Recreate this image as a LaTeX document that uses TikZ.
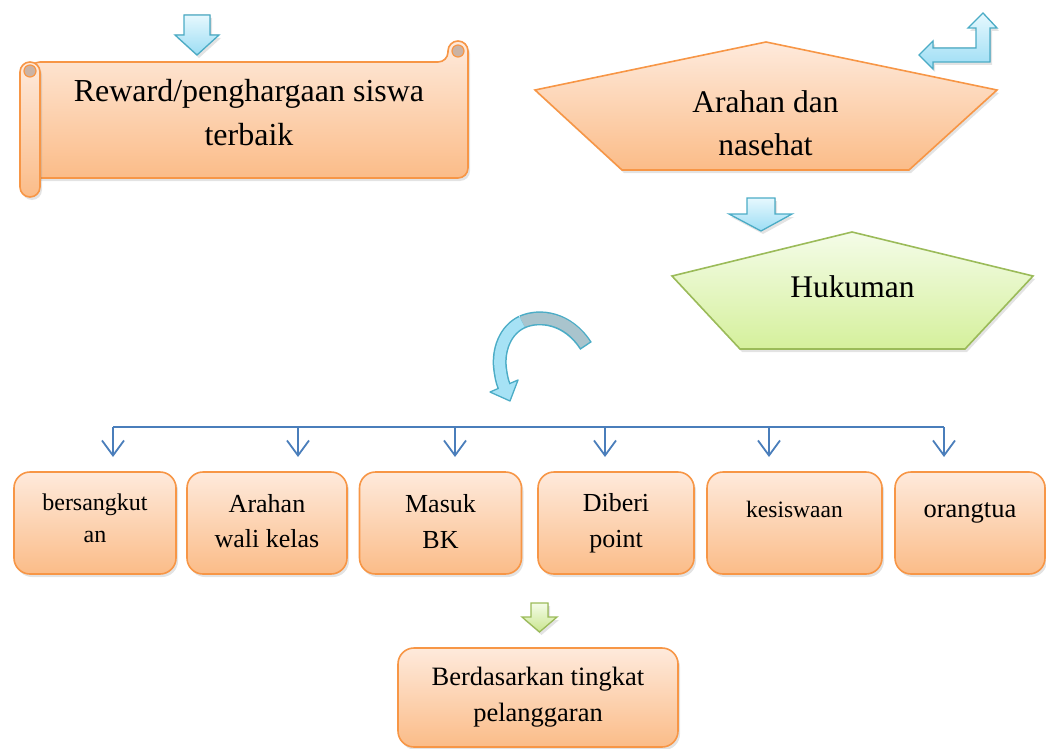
\documentclass[tikz,border=0pt]{standalone}
\usepackage{fontspec}
\setmainfont{Liberation Serif}
\usetikzlibrary{positioning, arrows.meta, shadows}
\definecolor{orlight}{HTML}{FEEADC}
\definecolor{ordark}{HTML}{FBBC88}
\definecolor{oredge}{HTML}{F79646}
\definecolor{grlight}{HTML}{F4FCE8}
\definecolor{grdark}{HTML}{D5F09C}
\definecolor{gredge}{HTML}{9BBB59}
\definecolor{bllight}{HTML}{E6F8FE}
\definecolor{bldark}{HTML}{9CDDF4}
\definecolor{bledge}{HTML}{4BACC6}
\definecolor{blfront}{HTML}{A6E2F5}
\definecolor{blback}{HTML}{A9C4CD}
\definecolor{busblue}{HTML}{4A7EBB}
\definecolor{curl}{HTML}{CBB3A4}

\begin{document}
\begin{tikzpicture}[x=1pt, y=-1pt,
      softshadow/.style={drop shadow={opacity=.22, shadow xshift=2pt, shadow yshift=-3pt}},
      orangeshape/.style={top color=orlight, bottom color=ordark, draw=oredge, line width=1.6pt, softshadow},
      greenshape/.style={top color=grlight, bottom color=grdark, draw=gredge, line width=1.6pt, softshadow},
      blockarrow/.style={top color=bllight, bottom color=bldark, draw=bledge, line width=1.3pt, softshadow},
      greenarrow/.style={top color=grlight, bottom color=grdark!80!gredge, draw=gredge, line width=1.3pt, softshadow},
      box/.style={orangeshape, rounded corners=16pt, minimum height=102pt, align=center, inner sep=0pt, text=black},
      txt/.style={align=center, inner sep=0pt, text=black},
      bus/.style={draw=busblue, line width=1.8pt},
      >={Straight Barb[length=15pt, width=22pt]},
    ]
    \useasboundingbox (0,0) rectangle (1046,749);

    % Scroll
    \filldraw[orangeshape, rounded corners=10pt] (30,62) -- (448,62) -- (448,41) -- (468,41) -- (468,178) -- (30,178) -- cycle;
    \filldraw[orangeshape, rounded corners=10pt] (20,62) rectangle (40,197);
    \filldraw[fill=curl, draw=oredge, line width=1.2pt] (30,71) circle[radius=6pt];
    \filldraw[fill=curl, draw=oredge, line width=1.2pt] (458,51) circle[radius=6pt];
    \node[txt, font=\fontsize{32}{44}\selectfont] (reward) at (249,113) {Reward/penghargaan siswa\\terbaik};

    % Pentagons
    \filldraw[orangeshape] (766,42) -- (997,90) -- (909,170) -- (622,170) -- (535,90) -- cycle;
    \node[txt, font=\fontsize{31.5}{43}\selectfont] (arahan) at (765.5,123) {Arahan dan\\nasehat};
    \filldraw[greenshape] (852,232) -- (1033,276) -- (965,349) -- (740,349) -- (672,276) -- cycle;
    \node[txt, font=\fontsize{31.5}{43}\selectfont] (hukuman) at (852.5,287) {Hukuman};

    % Block arrows
    \filldraw[blockarrow] (184,15) -- (210,15) -- (210,35) -- (219,35) -- (197,55) -- (175,35) -- (184,35) -- cycle;
    \filldraw[blockarrow] (747,198) -- (775,198) -- (775,214) -- (792,214) -- (761,231) -- (729,214) -- (747,214) -- cycle;
    \filldraw[blockarrow] (919,55) -- (933,41) -- (933,48) -- (976,48) -- (976,28) -- (968,28) -- (983,13) -- (997,28)
      -- (990,28) -- (990,62) -- (933,62) -- (933,69) -- cycle;
    \filldraw[greenarrow] (531,603) -- (548,603) -- (548,617) -- (557,617) -- (539.5,632) -- (522,617) -- (531,617) -- cycle;

    % Curved arrow
    \draw[line width=14pt, draw=bledge] (586,346) .. controls (568,318) and (540,314) .. (522,322);
    \draw[line width=11pt, draw=blback, shorten <=1.5pt] (586,346) .. controls (568,318) and (540,314) .. (522,322);
    \draw[line width=14pt, draw=bledge] (522,322) .. controls (505,330) and (498,350) .. (500,368) .. controls (501,376) and (502,381) .. (504,386);
    \filldraw[fill=blfront, draw=bledge, line width=1.3pt, line join=round] (490,392) -- (510,401) -- (518,380) -- cycle;
    \draw[line width=11pt, draw=blfront] (522,322) .. controls (505,330) and (498,350) .. (500,368) .. controls (501,376) and (502,381) .. (504,386) -- (505,389);

    % Row of boxes
    \node[box, minimum width=162pt, font=\fontsize{24}{32}\selectfont, text depth=10pt] (b1) at (95,523) {bersangkut\\an};
    \node[box, minimum width=160pt, font=\fontsize{26}{35}\selectfont, text depth=5pt] (b2) at (267,523) {Arahan\\wali kelas};
    \node[box, minimum width=162pt, font=\fontsize{26}{36}\selectfont, text depth=4pt] (b3) at (440.5,523) {Masuk\\BK};
    \node[box, minimum width=156pt, font=\fontsize{26}{36}\selectfont] (b4) at (616,523) {Diberi\\point};
    \node[box, minimum width=175pt, font=\fontsize{23.5}{36}\selectfont, text depth=28pt] (b5) at (794.5,523) {kesiswaan};
    \node[box, minimum width=150pt, font=\fontsize{26.5}{36}\selectfont, text depth=25pt] (b6) at (970,523) {orangtua};
    \node[box, minimum width=280pt, minimum height=99pt, font=\fontsize{26.5}{36}\selectfont] (tingkat) at (538,697.5) {Berdasarkan tingkat\\pelanggaran};

    % Branch line
    \coordinate (bus) at (0,427);
    \coordinate (t1) at (113,457);
    \coordinate (t2) at (298,457);
    \coordinate (t3) at (455,457);
    \coordinate (t4) at (605,457);
    \coordinate (t5) at (769,457);
    \coordinate (t6) at (944,457);
    \draw[bus] (t1 |- bus) -- (t6 |- bus);
    \foreach \t in {t1,t2,t3,t4,t5,t6}
      \draw[bus, ->] (\t |- bus) -- (\t);
  \end{tikzpicture}
\end{document}
